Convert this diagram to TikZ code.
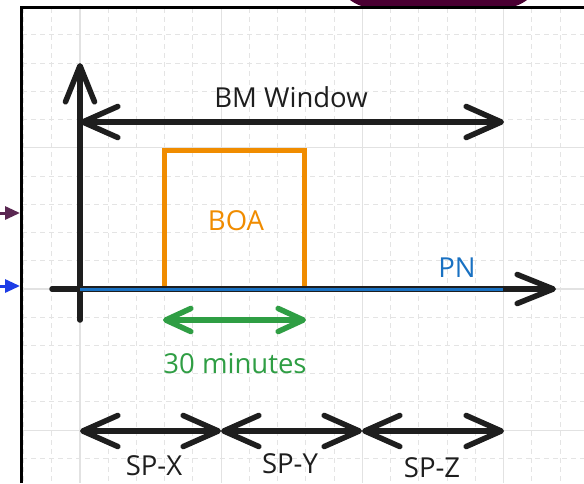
\documentclass[tikz,border=0pt]{standalone}
\usepackage{fontspec}
\setmainfont{Open Sans}
\usetikzlibrary{arrows.meta}
\definecolor{ink}{HTML}{1E1E1E}
\definecolor{boa}{HTML}{F08C00}
\definecolor{pn}{HTML}{1971C2}
\definecolor{mins}{HTML}{2F9E44}
\definecolor{gridmaj}{HTML}{E2E2E2}
\definecolor{gridmin}{HTML}{E4E4E4}
\definecolor{plum}{HTML}{4A0032}
\definecolor{inpurple}{HTML}{5A2752}
\definecolor{inblue}{HTML}{1D3DE6}
\tikzset{
  minorgrid/.style={gridmin, line width=1pt, dash pattern=on 5pt off 4pt},
  majorgrid/.style={gridmaj, line width=1.3pt},
  thick line/.style={line width=5.5pt, line cap=round},
  bighead/.style={-{Straight Barb[length=36pt,width=29pt,round]}},
  dblhead/.style={{Straight Barb[length=35pt,width=31pt,round]}-{Straight Barb[length=35pt,width=31pt,round]}},
  greenhead/.style={{Straight Barb[length=25pt,width=23pt,round]}-{Straight Barb[length=25pt,width=23pt,round]}},
  lbl/.style={font=\fontsize{27.5}{32}\selectfont, anchor=base, inner sep=0pt},
  inarrow/.style={line width=3pt, -{Triangle[length=15pt,width=13pt]}}
}
\begin{document}
\begin{tikzpicture}[x=1pt,y=-1pt]
\useasboundingbox (0,0) rectangle (584,483);
\fill[white] (0,0) rectangle (584,483);
% grid
\begin{scope}
\clip (22,8) rectangle (584,483);
\foreach \k in {-2,...,18} {
  \pgfmathsetmacro\xx{80+28.24*\k}
  \draw[minorgrid] (\xx,8) -- (\xx,483);
}
\foreach \k in {-10,...,7} {
  \pgfmathsetmacro\yy{289+28.24*\k}
  \draw[minorgrid] (22,\yy) -- (584,\yy);
}
\foreach \m in {0,...,3} {
  \pgfmathsetmacro\xx{80+141.2*\m}
  \draw[majorgrid] (\xx,8) -- (\xx,483);
}
\foreach \m in {-2,...,1} {
  \pgfmathsetmacro\yy{289+141.2*\m}
  \draw[majorgrid] (22,\yy) -- (584,\yy);
}
\end{scope}
% purple shape at top
\fill[plum, rounded corners=40pt] (334,-60) rectangle (543,8);
% frame
\draw[black, line width=2.5pt] (21.5,483) -- (21.5,7.5) -- (584,7.5);
% incoming arrows
\coordinate (pin1) at (-3,213);
\coordinate (pend1) at (20,213);
\coordinate (pin2) at (-3,286);
\coordinate (pend2) at (20,286);
\draw[inarrow, inpurple] (pin1) -- (pend1);
\draw[inarrow, inblue] (pin2) -- (pend2);
% coordinates
\coordinate (ybot) at (80,320);
\coordinate (ytop) at (80,63);
\coordinate (xl) at (52,289);
\coordinate (xr) at (556,289);
\coordinate (pnl) at (80,289.5);
\coordinate (pnr) at (503,289.5);
\coordinate (bml) at (80,122);
\coordinate (bmr) at (504,122);
\coordinate (b1) at (164,289);
\coordinate (b2) at (164,150);
\coordinate (b3) at (304,150);
\coordinate (b4) at (304,289);
\coordinate (gl) at (163,320);
\coordinate (gr) at (306,320);
\coordinate (s0) at (80,431);
\coordinate (s1) at (221,431);
\coordinate (s2) at (362,431);
\coordinate (s3) at (504,431);
% BOA box
\draw[boa, line width=5pt, line cap=round] (b1) -- (b2) -- (b3) -- (b4);
% axes
\draw[ink, thick line, bighead] (ybot) -- (ytop);
\draw[ink, thick line, bighead] (xl) -- (xr);
\draw[pn, line width=3pt] (pnl) -- (pnr);
% BM window
\draw[ink, thick line, dblhead] (bml) -- (bmr);
% 30 minutes
\draw[mins, thick line, greenhead] (gl) -- (gr);
% settlement periods
\draw[ink, thick line, dblhead] (s0) -- (s1);
\draw[ink, thick line, dblhead] (s1) -- (s2);
\draw[ink, thick line, dblhead] (s2) -- (s3);
% labels
\node[lbl, text=ink] (bmw) at (291,107) {BM Window};
\node[lbl, text=boa] (boalbl) at (236,230) {BOA};
\node[lbl, text=pn] (pnlbl) at (457,277) {PN};
\node[lbl, text=mins] (minlbl) at (235,373) {30 minutes};
\node[lbl, text=ink] (spx) at (154,475) {SP-X};
\node[lbl, text=ink] (spy) at (290,473) {SP-Y};
\node[lbl, text=ink] (spz) at (432,477) {SP-Z};
\end{tikzpicture}
\end{document}
